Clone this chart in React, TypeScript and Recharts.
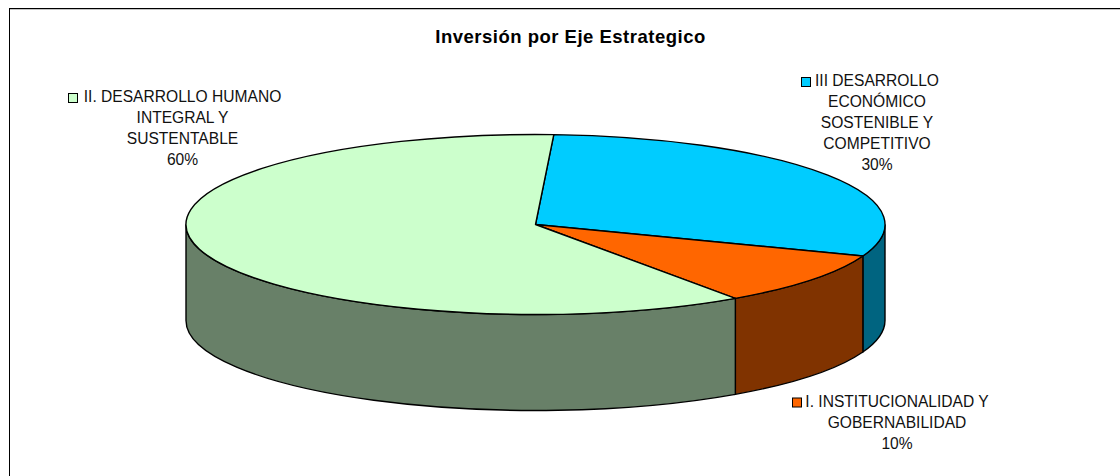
import { PieChart, Pie } from "recharts";

const categories = [
  "III DESARROLLO ECONÓMICO SOSTENIBLE Y COMPETITIVO",
  "I. INSTITUCIONALIDAD Y GOBERNABILIDAD",
  "II. DESARROLLO HUMANO INTEGRAL Y SUSTENTABLE",
];
const values = [29.8, 9.6, 60.4];
const topColors = ["#00ccff", "#ff6600", "#ccffcc"];
const sideColors = ["#006480", "#803300", "#688068"];
const labelLines = [
  ["III DESARROLLO", "ECONÓMICO", "SOSTENIBLE Y", "COMPETITIVO", "30%"],
  ["I. INSTITUCIONALIDAD Y", "GOBERNABILIDAD", "10%"],
  ["II. DESARROLLO HUMANO", "INTEGRAL Y", "SUSTENTABLE", "60%"],
];

const chartData = categories.map((name, i) => ({
  name,
  value: values[i],
  fill: topColors[i],
  side: sideColors[i],
}));

const WIDTH = 1120;
const HEIGHT = 476;
const CX = 535.5;
const CY = 224.5;
const RX = 349.5;
const RY = 90;
const DEPTH = 96;
const FONT = "Liberation Sans, Arial, sans-serif";

// where each label block sits: text centre, first baseline, key square position
const labelBoxes = [
  { x: 877, y: 86, keyX: 801.5, keyY: 77.5 },
  { x: 897, y: 407, keyX: 792.5, keyY: 398 },
  { x: 182.5, y: 102, keyX: 68.5, keyY: 93.5 },
];

const rad = (a: number) => (a * Math.PI) / 180;
const ex = (a: number) => CX + RX * Math.cos(rad(a));
const ey = (a: number) => CY - RY * Math.sin(rad(a));

function PieSlice3D(props: any) {
  const { startAngle, endAngle, fill, payload } = props;
  const hi = Math.max(startAngle, endAngle);
  const lo = Math.min(startAngle, endAngle);
  const large = hi - lo > 180 ? 1 : 0;
  const top = `M${CX},${CY} L${ex(hi)},${ey(hi)} A${RX},${RY} 0 ${large} 1 ${ex(lo)},${ey(lo)} Z`;

  // visible wall: only the part of the rim on the front half (-180..0)
  const wallHi = Math.min(hi, 0);
  const wallLo = Math.max(lo, -180);
  let wall = null;
  if (wallHi > wallLo) {
    const x1 = ex(wallHi);
    const y1 = ey(wallHi);
    const x2 = ex(wallLo);
    const y2 = ey(wallLo);
    const d = `M${x1},${y1} A${RX},${RY} 0 0 1 ${x2},${y2} L${x2},${y2 + DEPTH} A${RX},${RY} 0 0 0 ${x1},${y1 + DEPTH} Z`;
    wall = <path d={d} fill={payload.side ?? props.side} stroke="#000" strokeWidth={1.4} />;
  }
  return (
    <g>
      {wall}
      <path d={top} fill={fill} stroke="#000" strokeWidth={1.4} strokeLinejoin="round" />
    </g>
  );
}

function SliceLabel(props: any) {
  const i = props.index;
  const box = labelBoxes[i];
  return (
    <g>
      <rect x={box.keyX} y={box.keyY} width={9} height={9} fill={topColors[i]} stroke="#000" strokeWidth={1} />
      {labelLines[i].map((line, k) => (
        <text
          key={k}
          x={box.x}
          y={box.y + k * 21}
          textAnchor="middle"
          fontFamily={FONT}
          fontSize={15.6}
          fill="#111"
        >
          {line}
        </text>
      ))}
    </g>
  );
}

export default function App() {
  return (
    <div style={{ position: "absolute", left: 0, top: 0, width: WIDTH, height: HEIGHT, background: "#fff", overflow: "hidden" }}>
      <div
        style={{
          position: "absolute",
          left: 9,
          top: 8,
          width: 1111,
          height: 468,
          borderLeft: "1px solid #000",
          borderTop: "1px solid #000",
          boxSizing: "border-box",
        }}
      />
      <div style={{ position: "absolute", left: 10, top: 9, width: 1110, height: 1, background: "#c4c4c4" }} />
      <div style={{ position: "absolute", left: 0, top: 0 }}>
        <PieChart width={WIDTH} height={HEIGHT} margin={{ top: 0, right: 0, bottom: 0, left: 0 }}>
          <text
            x={570.5}
            y={43}
            textAnchor="middle"
            fontFamily={FONT}
            fontWeight="bold"
            fontSize={18.5}
            letterSpacing={0.5}
            fill="#000"
          >
            Inversión por Eje Estrategico
          </text>
          <Pie
            data={chartData}
            dataKey="value"
            nameKey="name"
            cx={CX}
            cy={CY}
            innerRadius={0}
            outerRadius={RX}
            startAngle={87}
            endAngle={-273}
            paddingAngle={0}
            isAnimationActive={false}
            shape={PieSlice3D}
            label={SliceLabel}
            labelLine={false}
          />
        </PieChart>
      </div>
    </div>
  );
}
